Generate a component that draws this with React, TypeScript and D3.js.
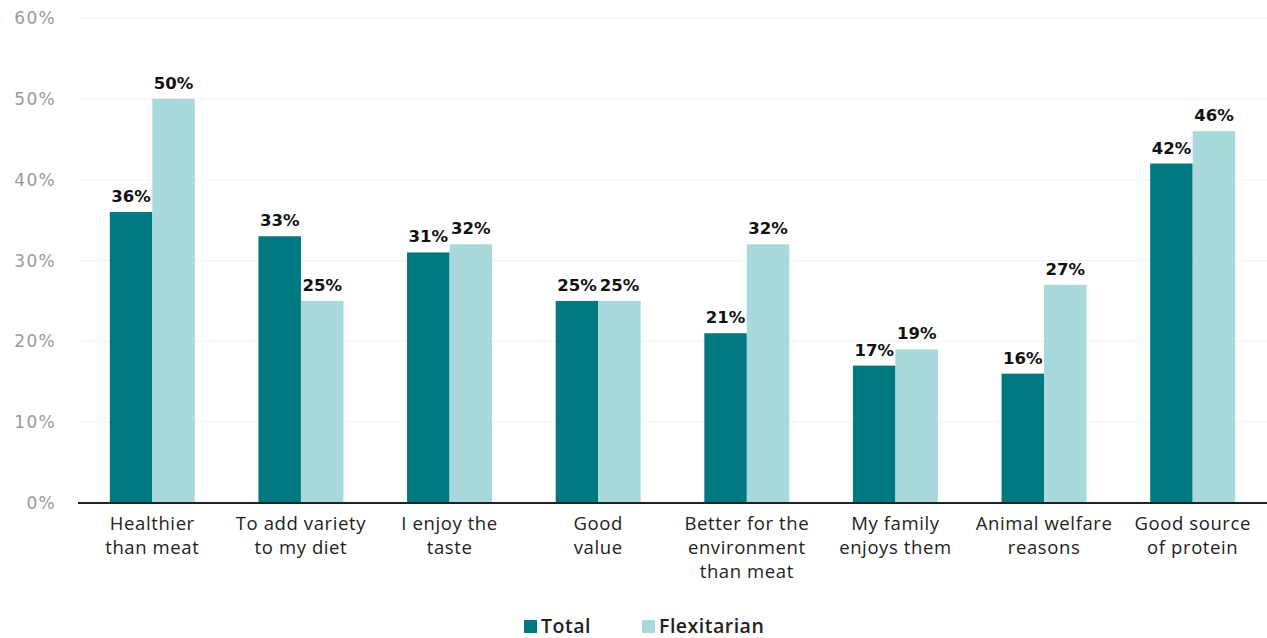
import React from "react";
import * as d3 from "d3";

const categories = [
  ["Healthier", "than meat"],
  ["To add variety", "to my diet"],
  ["I enjoy the", "taste"],
  ["Good", "value"],
  ["Better for the", "environment", "than meat"],
  ["My family", "enjoys them"],
  ["Animal welfare", "reasons"],
  ["Good source", "of protein"],
];
const totalValues = [36, 33, 31, 25, 21, 17, 16, 42];
const flexValues = [50, 25, 32, 25, 32, 19, 27, 46];
const yTicks = [0, 10, 20, 30, 40, 50, 60];
const seriesNames = ["Total", "Flexitarian"];
const colors = ["#007880", "#a8d9dd"];

export default function App() {
  const W = 1267, H = 638;
  const left = 78, right = 1267, top = 18, bottom = 503;
  const x = d3.scaleBand<number>().domain(d3.range(categories.length)).range([left, right]);
  const y = d3.scaleLinear().domain([0, 60]).range([bottom, top]);
  const barW = 42.5;
  const series = [totalValues, flexValues];
  return (
    <svg width={W} height={H} style={{ position: "absolute", left: 0, top: 0 }}>
      <rect width={W} height={H} fill="#fff" />
      {yTicks.map((t) => (
        <g key={t}>
          {t > 0 && <line x1={left} x2={right} y1={y(t)} y2={y(t)} stroke="#f2f2f2" strokeWidth={1} />}
          <text x={56} y={y(t)} dy="0.36em" textAnchor="end" fontFamily="'DejaVu Sans', sans-serif" fontSize={17} letterSpacing={1.3} fill="#9a9a9a">
            {t}%
          </text>
        </g>
      ))}
      {categories.map((c, i) => {
        const cx = x(i)! + x.bandwidth() / 2;
        return (
          <g key={i}>
            {series.map((s, j) => {
              const bx = cx - barW + j * barW;
              return (
                <g key={j}>
                  <rect x={bx} y={y(s[i])} width={barW} height={bottom - y(s[i])} fill={colors[j]} />
                  <text x={bx + barW / 2} y={y(s[i]) - 10} textAnchor="middle" fontFamily="'DejaVu Sans', sans-serif" fontWeight={700} fontSize={16.5} fill="#111">
                    {s[i]}%
                  </text>
                </g>
              );
            })}
            <text textAnchor="middle" fontFamily="'Open Sans', sans-serif" fontSize={18.5} letterSpacing={0.6} fill="#222">
              {c.map((line, k) => (
                <tspan key={k} x={cx} y={530 + k * 24}>{line}</tspan>
              ))}
            </text>
          </g>
        );
      })}
      <line x1={left} x2={right} y1={bottom} y2={bottom} stroke="#222" strokeWidth={2} />
      {seriesNames.map((n, j) => {
        const lx = [524, 642][j];
        return (
          <g key={n}>
            <rect x={lx} y={620} width={13} height={13} fill={colors[j]} />
            <text x={lx + 17} y={633} fontFamily="'Open Sans', sans-serif" fontWeight={600} fontSize={19.5} letterSpacing={0.5} fill="#222">{n}</text>
          </g>
        );
      })}
    </svg>
  );
}
